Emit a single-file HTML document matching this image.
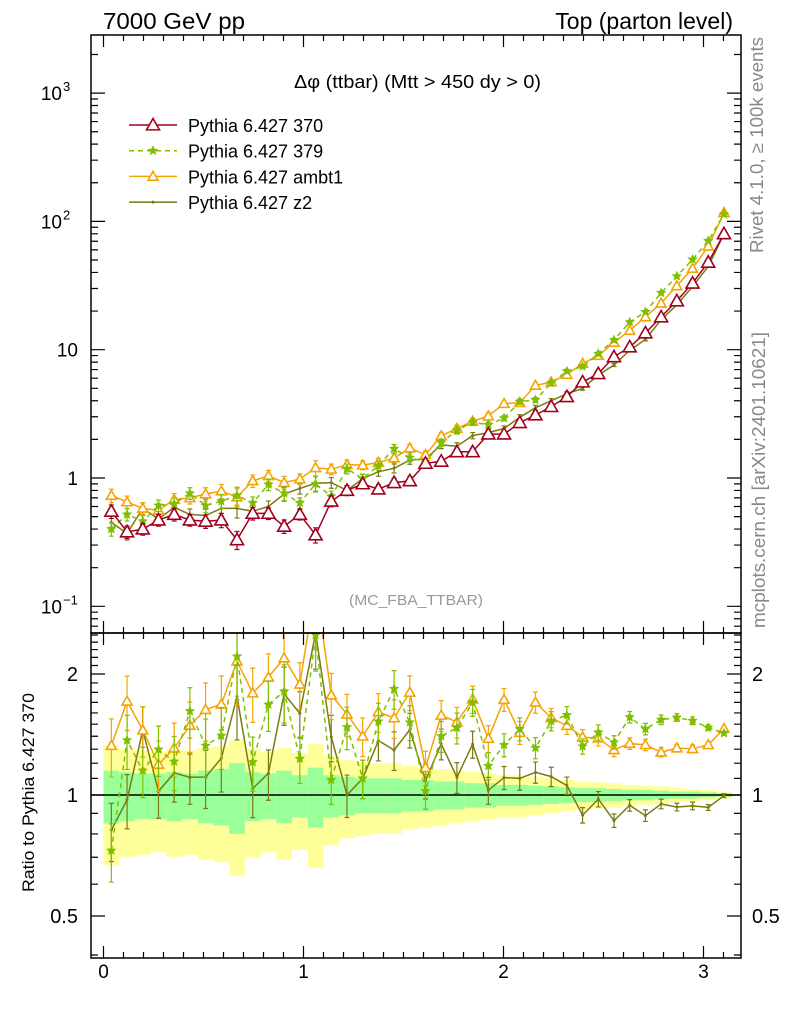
<!DOCTYPE html>
<html><head><meta charset="utf-8">
<style>
body{margin:0;background:#fff;}
svg{display:block;font-family:"Liberation Sans",sans-serif;}
</style></head>
<body>
<svg id="chart" width="786" height="1024" viewBox="0 0 786 1024" xmlns="http://www.w3.org/2000/svg">
<defs>
<clipPath id="cm"><rect x="91" y="35" width="650" height="598"/></clipPath>
<clipPath id="cr"><rect x="91" y="633" width="650" height="325"/></clipPath>
</defs>
<g id="bands" clip-path="url(#cr)"></g>
<g id="ratio" clip-path="url(#cr)"></g>
<g id="main" clip-path="url(#cm)"></g>
<g id="axes"></g>
<text x="103" y="29" font-size="23" textLength="142" lengthAdjust="spacingAndGlyphs">7000 GeV pp</text>
<text x="733" y="29" font-size="23" text-anchor="end">Top (parton level)</text>
<text x="294" y="88" font-size="18" textLength="247" lengthAdjust="spacingAndGlyphs">Δφ (ttbar) (Mtt &gt; 450 dy &gt; 0)</text>
<text x="349" y="605" font-size="15" fill="#999" textLength="134" lengthAdjust="spacingAndGlyphs">(MC_FBA_TTBAR)</text>
<text transform="translate(763,253) rotate(-90)" font-size="18" fill="#888" textLength="216" lengthAdjust="spacingAndGlyphs">Rivet 4.1.0, ≥ 100k events</text>
<text transform="translate(765,628) rotate(-90)" font-size="18" fill="#888" textLength="296" lengthAdjust="spacingAndGlyphs">mcplots.cern.ch [arXiv:2401.10621]</text>
<text transform="translate(34,892) rotate(-90)" font-size="17" textLength="199" lengthAdjust="spacingAndGlyphs">Ratio to Pythia 6.427 370</text>
<g id="legend"></g>
</svg>
<script>
const NS="http://www.w3.org/2000/svg";
const nb=40;
const s370=[0.55,0.38,0.40,0.47,0.52,0.47,0.46,0.47,0.33,0.53,0.53,0.42,0.52,0.36,0.66,0.80,0.90,0.82,0.92,0.95,1.3,1.35,1.6,1.6,2.2,2.2,2.7,3.1,3.6,4.3,5.6,6.5,8.8,10.5,13.5,18,24,33,48,80];
const s379=[0.40,0.52,0.46,0.61,0.63,0.76,0.61,0.66,0.73,0.64,0.89,0.76,0.64,0.90,0.72,1.18,0.99,1.25,1.69,1.44,1.33,1.89,2.35,2.72,2.6,2.93,3.94,4.06,5.5,6.8,7.4,9.3,11.9,16.4,19.7,27.7,37.4,50.5,70.6,114];
const sAmbt1=[0.73,0.65,0.58,0.56,0.68,0.70,0.75,0.79,0.71,0.95,1.04,0.92,0.98,1.2,1.17,1.27,1.26,1.32,1.43,1.71,1.52,2.13,2.43,2.77,3.04,3.8,3.86,5.27,5.6,6.4,7.8,9.0,11.4,14.1,18,23,31.4,43,64,117];
const sZ2=[0.45,0.37,0.58,0.48,0.59,0.52,0.51,0.58,0.58,0.55,0.60,0.75,0.83,0.91,0.92,0.80,0.99,1.12,1.19,1.38,1.41,1.81,1.77,2.14,2.26,2.43,2.97,3.53,4.0,4.54,4.99,6.35,7.6,9.9,12.0,17.1,22.4,31.0,44.7,79.7];
const relErr1=[0.15,0.14,0.13,0.13,0.14,0.13,0.15,0.16,0.2,0.14,0.13,0.15,0.12,0.17,0.12,0.11,0.1,0.1,0.1,0.09,0.09,0.08,0.08,0.07,0.07,0.06,0.06,0.055,0.05,0.045,0.04,0.04,0.035,0.03,0.03,0.025,0.02,0.02,0.015,0.01];
const relErr2=[0.33,0.3,0.29,0.28,0.3,0.29,0.31,0.32,0.37,0.3,0.28,0.31,0.27,0.34,0.25,0.22,0.21,0.2,0.2,0.18,0.17,0.16,0.15,0.14,0.13,0.12,0.12,0.11,0.1,0.09,0.08,0.075,0.07,0.06,0.055,0.05,0.04,0.035,0.03,0.02];
const mainTicks=[{v:1000,l:"10",e:"3"},{v:100,l:"10",e:"2"},{v:10,l:"10"},{v:1,l:"1"},{v:0.1,l:"10",e:"−1"}];
const ratioTicks=[{v:2,l:"2"},{v:1,l:"1"},{v:0.5,l:"0.5"}];
const xTicks=[0,1,2,3];

const X=v=>103.5+v*200;
const Y=v=>478-128.3*Math.log10(v);
const R=r=>795-402*Math.log10(r);
const bw=Math.PI/nb;
const ctr=i=>(i+0.5)*bw;
function mk(tag,attrs,parent){const e=document.createElementNS(NS,tag);for(const k in attrs)e.setAttribute(k,attrs[k]);parent.appendChild(e);return e;}

const series=[
 {name:"pythia-370",label:"Pythia 6.427 370",d:s370,c:"#a0001e",dash:"",m:"tri",sz:6.5,w:1.5},
 {name:"pythia-379",label:"Pythia 6.427 379",d:s379,c:"#7fbf00",dash:"5,4",m:"star",sz:5,w:1.5},
 {name:"pythia-ambt1",label:"Pythia 6.427 ambt1",d:sAmbt1,c:"#f5a300",dash:"",m:"tri",sz:5,w:1.5},
 {name:"pythia-z2",label:"Pythia 6.427 z2",d:sZ2,c:"#7a7a10",dash:"",m:"dot",sz:1.5,w:1.5}
];
function marker(g,m,x,y,sz,c){
 if(m==="tri"){return mk("polygon",{points:`${x},${y-sz} ${x-sz},${y+sz*0.75} ${x+sz},${y+sz*0.75}`,fill:"#fff",stroke:c,"stroke-width":1.6},g);}
 if(m==="star"){let p=[];for(let k=0;k<10;k++){const a=-Math.PI/2+k*Math.PI/5,r=k%2?sz*0.45:sz;p.push((x+r*Math.cos(a)).toFixed(1)+","+(y+r*Math.sin(a)).toFixed(1));}return mk("polygon",{points:p.join(" "),fill:c,stroke:c,"stroke-width":0.5},g);}
 return mk("circle",{cx:x,cy:y,r:sz,fill:c},g);
}
function errbar(g,x,y1,y2,c){
 const e=mk("path",{d:`M${x},${y1}V${y2}M${x-2.5},${y1}H${x+2.5}M${x-2.5},${y2}H${x+2.5}`,stroke:c,"stroke-width":1.2,fill:"none"},g);
 
 
}
const gb=document.getElementById("bands");
for(let i=0;i<nb;i++){
 const x0=X(i*bw),x1=X((i+1)*bw);
 const y=mk("rect",{x:x0,y:R(1+relErr2[i]),width:x1-x0,height:R(1-relErr2[i])-R(1+relErr2[i]),fill:"#ffff99"},gb);
 
 
 const gr=mk("rect",{x:x0,y:R(1+relErr1[i]),width:x1-x0,height:R(1-relErr1[i])-R(1+relErr1[i]),fill:"#99ff99"},gb);
 
 
}
const gm=document.getElementById("main"),gr=document.getElementById("ratio");
const ref=mk("line",{x1:91,x2:741,y1:R(1),y2:R(1),stroke:"#000","stroke-width":1.5},gr);


[3,2,1,0].forEach(si=>{
 const s=series[si];
 const g1=mk("g",{},gm);
 
 
 const pts=s.d.map((v,i)=>X(ctr(i)).toFixed(1)+","+Y(v).toFixed(1));
 mk("polyline",{points:pts.join(" "),fill:"none",stroke:s.c,"stroke-width":s.w,"stroke-dasharray":s.dash},g1);
 s.d.forEach((v,i)=>{const x=X(ctr(i));const e=relErr1[i]*0.8;errbar(g1,x,Y(v*(1+e)),Y(v*(1-e)),s.c);
  const mm=marker(g1,s.m,x,Y(v),s.sz,s.c);
  
  });
 if(si===0)return;
 const g2=mk("g",{},gr);
 
 
 const rp=s.d.map((v,i)=>X(ctr(i)).toFixed(1)+","+R(v/s370[i]).toFixed(1));
 mk("polyline",{points:rp.join(" "),fill:"none",stroke:s.c,"stroke-width":s.w,"stroke-dasharray":s.dash},g2);
 s.d.forEach((v,i)=>{const x=X(ctr(i));const r=v/s370[i];const e=relErr1[i]*1.1;errbar(g2,x,R(r*(1+e)),R(r*(1-e)),s.c);
  const mm=marker(g2,s.m,x,R(r),s.sz,s.c);
  
  });
});
const ga=document.getElementById("axes");
const fm=mk("rect",{x:91,y:35,width:650,height:598,fill:"none",stroke:"#000","stroke-width":1.5},ga);


const fr=mk("rect",{x:91,y:633,width:650,height:325,fill:"none",stroke:"#000","stroke-width":1.5},ga);


let tp="";
for(let k=-1;k<=32;k++){const v=k/10;const x=X(v);if(x<92||x>740)continue;const L=(k%10===0)?12:6;
 tp+=`M${x},35v${L}M${x},633v${-L}M${x},633v${L}M${x},958v${-L}`;}
for(let d=-2;d<=3;d++)for(let m=1;m<=9;m++){const v=m*Math.pow(10,d);const y=Y(v);if(y<35||y>633)continue;const L=m===1?14:7;tp+=`M91,${y}h${L}M741,${y}h${-L}`;}
for(let k=4;k<=25;k++){const r=k/10;const y=R(r);if(y<633||y>958)continue;const big=(k===5||k===10||k===20);const L=big?14:7;tp+=`M91,${y}h${L}M741,${y}h${-L}`;}
mk("path",{d:tp,stroke:"#000","stroke-width":1.2,fill:"none"},ga);
xTicks.forEach(v=>{const t=mk("text",{x:X(v),y:978,"font-size":19,"text-anchor":"middle"},ga);t.textContent=v;
 
 });
mainTicks.forEach(t=>{const tx=mk("text",{x:t.e?62:78,y:Y(t.v)+7,"font-size":19,"text-anchor":"end"},ga);tx.textContent=t.l;
 
 
 if(t.e){const s=mk("tspan",{dy:-9,"font-size":13,x:63,"text-anchor":"start"},tx);s.textContent=t.e;}});
ratioTicks.forEach(t=>{[78,752].forEach((x,j)=>{const tx=mk("text",{x:x,y:R(t.v)+7,"font-size":20,"text-anchor":j?"start":"end"},ga);tx.textContent=t.l;
 
 });});
const gl=document.getElementById("legend");
series.forEach((s,i)=>{const y=125+i*25.7;
 const g=mk("g",{},gl);
 
 
 mk("line",{x1:129,x2:177,y1:y,y2:y,stroke:s.c,"stroke-width":1.5,"stroke-dasharray":s.dash},g);
 marker(g,s.m,153,y,s.sz,s.c);
 const t=mk("text",{x:188,y:y+7,"font-size":18},g);t.textContent=s.label;});
</script>
</body></html>
